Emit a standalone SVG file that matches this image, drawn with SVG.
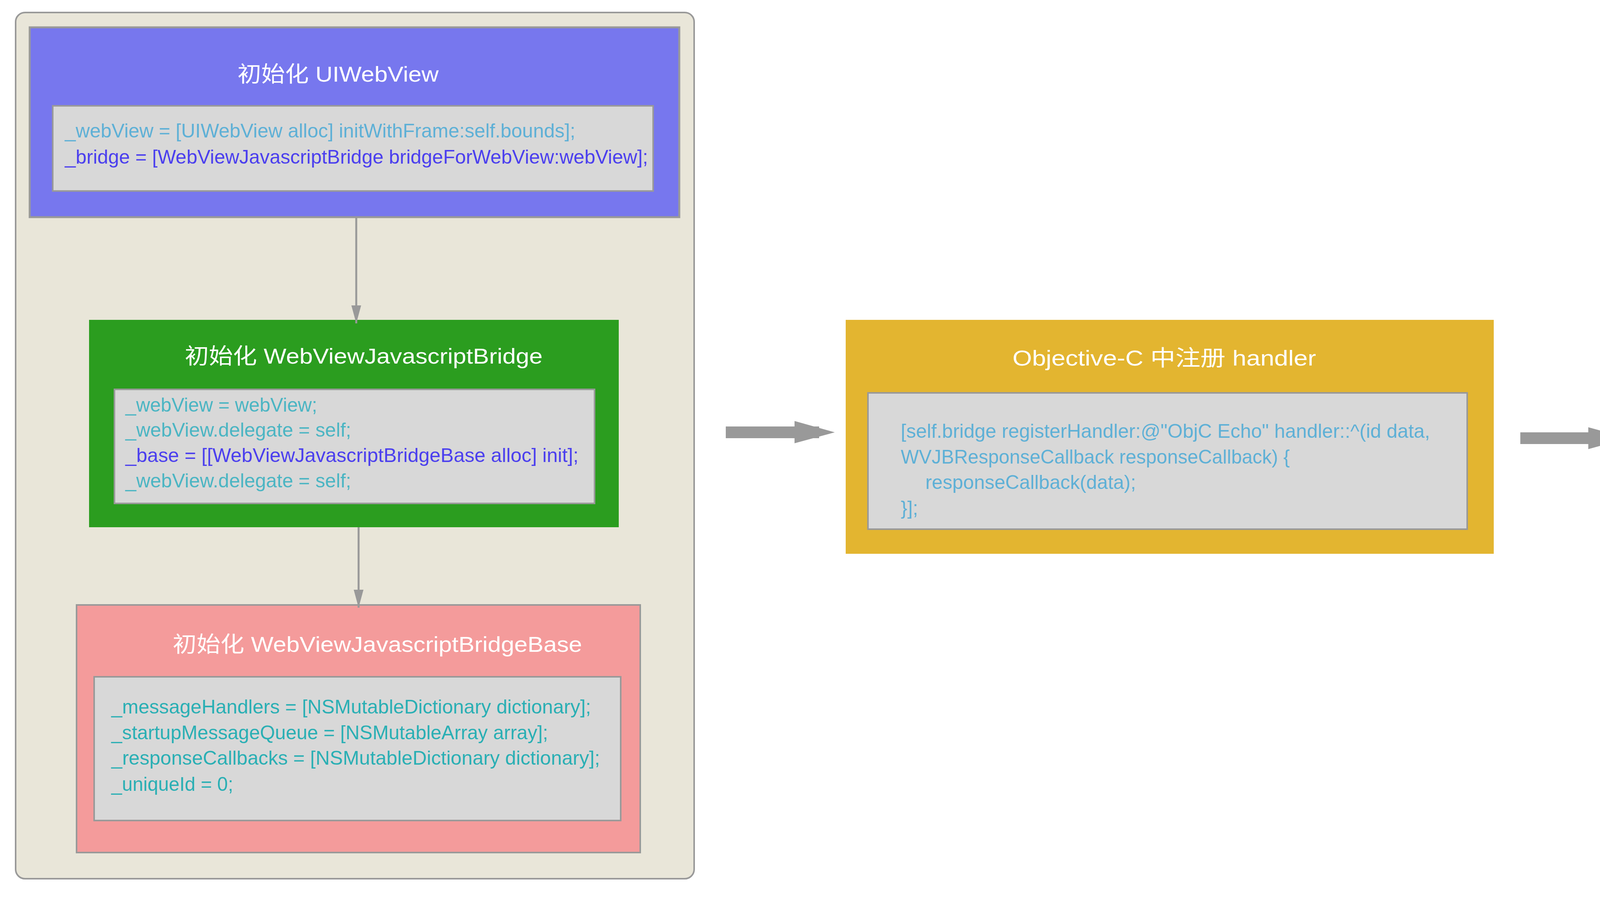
<svg xmlns="http://www.w3.org/2000/svg" width="5667" height="2325" viewBox="0 0 5667 2325">
<defs>
<style>
.title{font-family:"Liberation Sans","Noto Sans CJK SC",sans-serif;font-size:56px;fill:#ffffff;}
.code{font-family:"Liberation Sans","Noto Sans CJK SC",sans-serif;font-size:50px;}
.inner{fill:#d8d8d8;stroke:#999999;stroke-width:4;}
.c1{fill:#5eb0d6;}
.c2{fill:#4b3fee;}
.c3{fill:#4bb5c3;}
.c4{fill:#2aafb4;}
.conn{stroke:#999999;stroke-width:5;fill:none;}
.block{fill:#999999;}
</style>
<marker id="ah" markerUnits="userSpaceOnUse" markerWidth="48" markerHeight="27" viewBox="0 0 48 27" refX="46" refY="13.5" orient="auto">
<path d="M0,1 L46,13.5 L0,26 Z" fill="#999999"/>
</marker>
</defs>
<rect width="5667" height="2325" fill="#ffffff"/>

<g id="container">
<rect x="40" y="32" width="1737" height="2218" rx="24" ry="24" fill="#e9e6d9" stroke="#999999" stroke-width="4"/>
</g>

<g id="node-uiwebview">
<rect x="76" y="70" width="1663" height="486" fill="#7777ee" stroke="#999999" stroke-width="5"/>
<text class="title" x="608" y="209" textLength="515" lengthAdjust="spacingAndGlyphs">初始化 UIWebView</text>
<rect class="inner" x="135" y="271" width="1537" height="218"/>
<text class="code c1" x="166" y="352" textLength="1307" lengthAdjust="spacingAndGlyphs">_webView = [UIWebView alloc] initWithFrame:self.bounds];</text>
<text class="code c2" x="166" y="419" textLength="1493" lengthAdjust="spacingAndGlyphs">_bridge = [WebViewJavascriptBridge bridgeForWebView:webView];</text>
</g>

<g id="node-bridge">
<rect x="228" y="819" width="1356" height="531" fill="#2b9d1f"/>
<text class="title" x="473" y="931" textLength="916" lengthAdjust="spacingAndGlyphs">初始化 WebViewJavascriptBridge</text>
<rect class="inner" x="293" y="997" width="1229" height="292"/>
<text class="code c3" x="321" y="1054" textLength="491" lengthAdjust="spacingAndGlyphs">_webView = webView;</text>
<text class="code c3" x="321" y="1118" textLength="578" lengthAdjust="spacingAndGlyphs">_webView.delegate = self;</text>
<text class="code c2" x="321" y="1183" textLength="1160" lengthAdjust="spacingAndGlyphs">_base = [[WebViewJavascriptBridgeBase alloc] init];</text>
<text class="code c3" x="321" y="1248" textLength="578" lengthAdjust="spacingAndGlyphs">_webView.delegate = self;</text>
</g>

<g id="node-bridgebase">
<rect x="196" y="1549" width="1443" height="634" fill="#f49b9b" stroke="#999999" stroke-width="4"/>
<text class="title" x="442" y="1669" textLength="1048" lengthAdjust="spacingAndGlyphs">初始化 WebViewJavascriptBridgeBase</text>
<rect class="inner" x="241" y="1733" width="1348" height="368"/>
<text class="code c4" x="285" y="1827" textLength="1228" lengthAdjust="spacingAndGlyphs">_messageHandlers = [NSMutableDictionary dictionary];</text>
<text class="code c4" x="285" y="1893" textLength="1118" lengthAdjust="spacingAndGlyphs">_startupMessageQueue = [NSMutableArray array];</text>
<text class="code c4" x="285" y="1958" textLength="1251" lengthAdjust="spacingAndGlyphs">_responseCallbacks = [NSMutableDictionary dictionary];</text>
<text class="code c4" x="285" y="2025" textLength="312" lengthAdjust="spacingAndGlyphs">_uniqueId = 0;</text>
</g>

<g id="node-register">
<rect x="2165" y="819" width="1659" height="599" fill="#e3b530"/>
<text class="title" x="2592" y="936" textLength="777" lengthAdjust="spacingAndGlyphs">Objective-C 中注册 handler</text>
<rect class="inner" x="2222" y="1006" width="1534" height="349"/>
<text class="code c1" x="2306" y="1121" textLength="1355" lengthAdjust="spacingAndGlyphs">[self.bridge registerHandler:@"ObjC Echo" handler::^(id data,</text>
<text class="code c1" x="2306" y="1187" textLength="996" lengthAdjust="spacingAndGlyphs">WVJBResponseCallback responseCallback) {</text>
<text class="code c1" x="2369" y="1252" textLength="539" lengthAdjust="spacingAndGlyphs">responseCallback(data);</text>
<text class="code c1" x="2306" y="1318">}];</text>
</g>

<g id="node-load">
<rect x="4215" y="876" width="1273" height="498" fill="#8646f2"/>
<text class="title" x="4275" y="969" textLength="1133" lengthAdjust="spacingAndGlyphs">Objective-C 中通过 UIWebView 加载网页</text>
<rect class="inner" x="4274" y="1036" width="1146" height="177"/>
<text class="code c1" x="4340" y="1152" textLength="752" lengthAdjust="spacingAndGlyphs">[_webView LoadRequest:request];</text>
</g>

<g id="connectors">
<line class="conn" x1="912" y1="556" x2="912" y2="828" marker-end="url(#ah)"/>
<line class="conn" x1="918" y1="1350" x2="918" y2="1556" marker-end="url(#ah)"/>
<g class="block">
<rect x="1858" y="1092" width="239" height="30"/>
<polygon points="2034,1078 2137,1107 2034,1135"/>
<rect x="3892" y="1107" width="235" height="30"/>
<polygon points="4066,1094 4168,1122 4066,1150"/>
</g>
</g>

<g id="watermark">
<text x="5040" y="2268" font-family="Liberation Sans, sans-serif" font-size="59" fill="#52b5c5" textLength="561" lengthAdjust="spacingAndGlyphs">@ShannonChenCHN</text>
</g>
</svg>
